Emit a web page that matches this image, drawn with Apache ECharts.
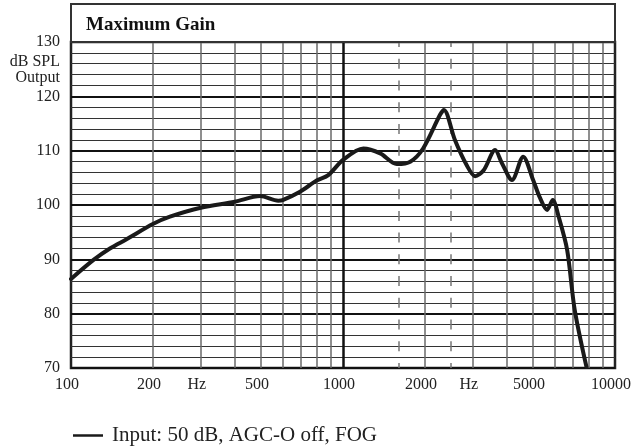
<!DOCTYPE html>
<html>
<head>
<meta charset="utf-8">
<script src="https://cdn.jsdelivr.net/npm/echarts@6/dist/echarts.min.js"></script>
<style>
  html, body { margin: 0; padding: 0; background: #fff; }
  #chart { width: 631px; height: 447px; }
</style>
</head>
<body>
<div id="chart"></div>
<script>
// ---- data ----
const titleText = 'Maximum Gain';
const seriesName = 'Input: 50 dB, AGC-O off, FOG';
const yAxisName = ['dB SPL', 'Output'];
const freqs = [100, 121, 139, 160, 200, 231, 300, 400, 496, 578, 600, 695, 800, 883, 1000, 1188, 1370, 1576, 1767, 1970, 2274, 2350, 2577, 2844, 3061, 3290, 3625, 3840, 4181, 4596, 5000, 5280, 5630, 5900, 6230, 6671, 7110, 7854];
const gains = [86.4, 89.9, 92.0, 93.7, 96.5, 97.85, 99.5, 100.6, 101.66, 100.8, 100.9, 102.45, 104.5, 105.5, 108.3, 110.4, 109.5, 107.55, 107.97, 110.4, 116.6, 117.5, 112.0, 107.4, 105.3, 106.4, 110.1, 107.7, 104.6, 108.9, 104.6, 101.5, 99.1, 100.9, 97.55, 91.7, 80.7, 70.2];
const minorFreqLines = [200, 300, 400, 500, 600, 700, 800, 900, 2000, 3000, 4000, 5000, 6000, 7000, 8000, 9000];
const majorFreqLines = [1000];
const dashedFreqLines = [1600, 2500];
const xTickValues = [100, 200, 300, 500, 1000, 2000, 3000, 5000, 10000];
const xTickLabels = ['100', '200', 'Hz', '500', '1000', '2000', 'Hz', '5000', '10000'];
const yMin = 70, yMax = 130, yMajor = 10, yMinorSplit = 5;

const serif = '"Liberation Serif", "DejaVu Serif", serif';
const lineData = freqs.map((f, i) => [f, gains[i]]);

const gridLines = [];
minorFreqLines.forEach(v => gridLines.push({ xAxis: v, lineStyle: { color: '#6a6a6a', width: 1.5, type: 'solid' } }));
majorFreqLines.forEach(v => gridLines.push({ xAxis: v, lineStyle: { color: '#111', width: 2.5, type: 'solid' } }));
dashedFreqLines.forEach(v => gridLines.push({ xAxis: v, lineStyle: { color: '#777', width: 1.5, type: [10, 11.73], dashOffset: 5 } }));

const labelLines = xTickValues.map((v, i) => ({
  xAxis: v,
  lineStyle: { width: 0, color: 'rgba(255,255,255,0)' },
  label: { show: true, formatter: xTickLabels[i], color: '#222' }
}));

const chart = echarts.init(document.getElementById('chart'), null, { renderer: 'canvas' });
chart.setOption({
  animation: false,
  backgroundColor: '#fff',
  grid: { left: 71, right: 16, top: 42, bottom: 79, show: true, borderColor: '#222', borderWidth: 2.5, backgroundColor: 'transparent' },
  xAxis: {
    type: 'log', logBase: 10, min: 100, max: 10000,
    axisLine: { show: false }, axisTick: { show: false }, axisLabel: { show: false },
    splitLine: { show: false }
  },
  yAxis: {
    type: 'value', min: yMin, max: yMax, interval: yMajor,
    axisLine: { show: false }, axisTick: { show: false },
    axisLabel: { color: '#222', fontFamily: serif, fontSize: 16, margin: 11 },
    splitLine: { show: true, lineStyle: { color: '#111', width: 2 } },
    minorTick: { show: false, splitNumber: yMinorSplit },
    minorSplitLine: { show: true, lineStyle: { color: '#333', width: 1 } }
  },
  legend: {
    left: 68, top: 420,
    data: [seriesName],
    icon: 'rect', itemWidth: 30, itemHeight: 2.5,
    textStyle: { fontFamily: serif, fontSize: 21, color: '#222', padding: [0, 0, 0, 4] }
  },
  graphic: [
    { type: 'rect', shape: { x: 71, y: 4, width: 544, height: 38 }, style: { fill: '#fff', stroke: '#333', lineWidth: 2 }, z: 10 },
    { type: 'text', x: 86, y: 25, style: { text: titleText, font: 'bold 19px ' + serif, fill: '#111', textVerticalAlign: 'middle' }, z: 11 },
    { type: 'text', x: 60, y: 62, style: { text: yAxisName[0], font: '16px ' + serif, fill: '#222', textAlign: 'right', textVerticalAlign: 'middle' } },
    { type: 'text', x: 60, y: 78, style: { text: yAxisName[1], font: '16px ' + serif, fill: '#222', textAlign: 'right', textVerticalAlign: 'middle' } }
  ],
  series: [
    {
      type: 'line', name: '__grid', data: [], z: 1, silent: true,
      markLine: {
        silent: true, symbol: ['none', 'none'], animation: false,
        label: { show: false },
        data: gridLines
      }
    },
    {
      type: 'line', name: '__labels', data: [], z: 1, silent: true,
      markLine: {
        silent: true, symbol: ['none', 'none'], animation: false,
        label: { show: true, position: 'start', distance: 9, color: '#222', fontFamily: serif, fontSize: 16, padding: [0, 8, 0, 0] },
        data: labelLines
      }
    },
    {
      type: 'line', name: seriesName, data: lineData, z: 5,
      smooth: 0.3, showSymbol: false, symbol: 'none',
      color: '#1a1a1a',
      lineStyle: { color: '#1a1a1a', width: 4, cap: 'round', join: 'round' }
    }
  ]
});
</script>
</body>
</html>
